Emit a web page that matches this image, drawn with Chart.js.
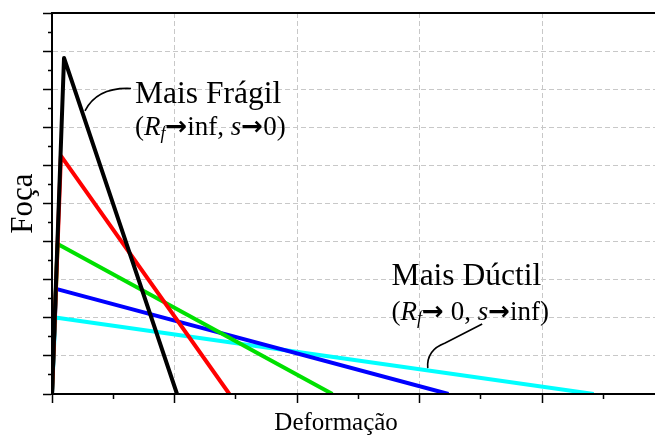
<!DOCTYPE html>
<html>
<head>
<meta charset="utf-8">
<title>Foça x Deformação</title>
<script src="https://cdn.jsdelivr.net/npm/chart.js@4.4.0/dist/chart.umd.min.js"></script>
<style>
  html, body { margin: 0; padding: 0; background: #fff; overflow: hidden; }
  #wrap { width: 655px; height: 435px; }
</style>
</head>
<body>
<div id="wrap"><canvas id="chart" width="655" height="435"></canvas></div>
<script>
// one triangle per material: origin -> peak -> failure
const curveColors = ['#000000', '#ff0000', '#00e000', '#0000ff', '#00ffff'];
const peakDef     = [0.098, 0.073, 0.046, 0.033, 0.027];
const peakForce   = [8.82, 6.25, 3.94, 2.76, 2.01];
const failDef     = [1.02, 1.447, 2.288, 3.235, 4.42];

const xMax = 4.92;
const yMax = 10;

const xTitle = 'Deformação';
const yTitle = 'Foça';

const serif = '"Liberation Serif", "Times New Roman", serif';
const arrowFont = 'bold 26px "DejaVu Sans"';

// callouts, anchored in data units
const brittleLabel = { x: 0.678, y1: 7.64, y2: 6.80, title: 'Mais Frágil', tail: ['inf, ', 's', '0)'] };
const ductileLabel = { x: 2.771, y1: 2.86, y2: 1.94, title: 'Mais Dúctil', tail: [' 0, ', 's', 'inf)'] };
const brittleLeader = [[0.269, 7.43], [0.367, 8.06], [0.645, 8.02]];
const ductileLeader = [[3.066, 0.68], [3.053, 1.155], [3.208, 1.34], [3.51, 1.837]];

const isMajor = v => Math.abs(v - Math.round(v)) < 1e-6;

function drawRich(ctx, x, y, parts) {
  parts.forEach(p => {
    ctx.font = p.font;
    ctx.fillText(p.t, x, y + (p.dy || 0));
    x += ctx.measureText(p.t).width;
  });
}

function drawCallout(ctx, xs, ys, lab) {
  const px = xs.getPixelForValue(lab.x);
  ctx.fillStyle = '#000';
  ctx.textBaseline = 'alphabetic';
  ctx.textAlign = 'left';
  ctx.font = `31.5px ${serif}`;
  ctx.fillText(lab.title, px, ys.getPixelForValue(lab.y1));
  drawRich(ctx, px, ys.getPixelForValue(lab.y2), [
    { t: '(', font: `27px ${serif}` },
    { t: 'R', font: `italic 27px ${serif}` },
    { t: 'f', font: `italic 18px ${serif}`, dy: 4 },
    { t: '→', font: arrowFont },
    { t: lab.tail[0], font: `27px ${serif}` },
    { t: lab.tail[1], font: `italic 27px ${serif}` },
    { t: '→', font: arrowFont },
    { t: lab.tail[2], font: `27px ${serif}` }
  ]);
}

const annotations = {
  id: 'annotations',
  afterDraw(chart) {
    const { ctx, scales: { x, y }, chartArea } = chart;
    const P = ([a, b]) => [x.getPixelForValue(a), y.getPixelForValue(b)];
    ctx.save();
    ctx.strokeStyle = '#000';
    ctx.lineWidth = 1.6;

    let s = P(brittleLeader[0]), c = P(brittleLeader[1]), e = P(brittleLeader[2]);
    ctx.beginPath();
    ctx.moveTo(s[0], s[1]);
    ctx.quadraticCurveTo(c[0], c[1], e[0], e[1]);
    ctx.stroke();

    s = P(ductileLeader[0]); c = P(ductileLeader[1]);
    const m = P(ductileLeader[2]), f = P(ductileLeader[3]);
    ctx.beginPath();
    ctx.moveTo(s[0], s[1]);
    ctx.quadraticCurveTo(c[0], c[1], m[0], m[1]);
    ctx.lineTo(f[0], f[1]);
    ctx.stroke();

    drawCallout(ctx, x, y, brittleLabel);
    drawCallout(ctx, x, y, ductileLabel);

    // x title sits left of the visible axis centre in the original
    ctx.font = `25px ${serif}`;
    ctx.textAlign = 'center';
    ctx.textBaseline = 'alphabetic';
    ctx.fillText(xTitle, x.getPixelForValue(2.318), chartArea.bottom + 36);
    ctx.restore();
  }
};

const datasets = curveColors.map((col, i) => ({
  data: [
    { x: 0, y: 0 },
    { x: peakDef[i], y: peakForce[i] },
    { x: failDef[i], y: 0 }
  ],
  borderColor: col,
  borderWidth: 4,
  borderJoinStyle: 'round',
  pointRadius: 0,
  tension: 0,
  fill: false
}));

Chart.defaults.color = '#000';

new Chart(document.getElementById('chart'), {
  type: 'line',
  data: { datasets },
  options: {
    responsive: false,
    animation: false,
    events: [],
    layout: { padding: 0 },
    plugins: { legend: { display: false }, tooltip: { enabled: false } },
    scales: {
      x: {
        type: 'linear',
        position: 'bottom',
        min: 0,
        max: xMax,
        afterBuildTicks: s => { s.ticks = s.ticks.filter(t => isMajor(t.value * 2)); },
        afterFit: s => { s.height = 41; },
        ticks: { display: false, stepSize: 0.5 },
        border: { display: true, color: '#000', width: 2, dash: [5, 3], z: 1 },
        grid: {
          color: c => isMajor(c.tick.value) ? '#c8c8c8' : 'rgba(0,0,0,0)',
          lineWidth: 1,
          tickLength: 9,
          tickColor: '#000',
          tickWidth: 1.5,
          tickBorderDash: c => isMajor(c.tick.value) ? [] : [4, 100]
        }
      },
      x2: {
        type: 'linear',
        position: 'top',
        afterFit: s => { s.height = 13; },
        ticks: { display: false },
        grid: { display: false, drawTicks: false },
        border: { display: true, color: '#000', width: 2, z: 1 }
      },
      y: {
        type: 'linear',
        min: 0,
        max: yMax,
        afterFit: s => { s.width = 52; },
        ticks: { display: false, stepSize: 0.5 },
        title: {
          display: true,
          text: yTitle,
          font: { family: serif, size: 31, lineHeight: 1 },
          padding: { top: 8, bottom: 0 }
        },
        border: { display: true, color: '#000', width: 2, dash: [5, 3], z: 1 },
        grid: {
          color: c => isMajor(c.tick.value) ? '#c8c8c8' : 'rgba(0,0,0,0)',
          lineWidth: 1,
          tickLength: 9,
          tickColor: '#000',
          tickWidth: 1.5,
          tickBorderDash: c => isMajor(c.tick.value) ? [] : [0, 5, 4, 100]
        }
      }
    }
  },
  plugins: [annotations]
});
</script>
</body>
</html>
